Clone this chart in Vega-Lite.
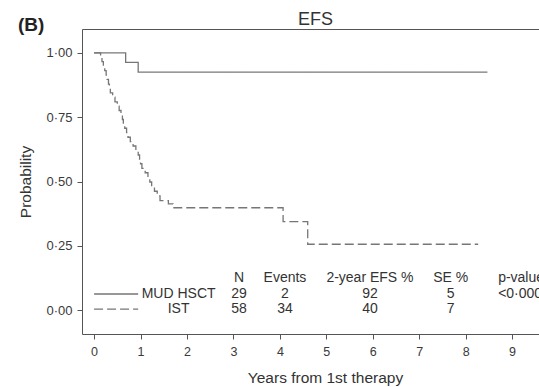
{
  "$schema": "https://vega.github.io/schema/vega-lite/v6.json",
  "width": 457,
  "height": 305,
  "autosize": "none",
  "padding": {"left": 82, "top": 29, "right": 0, "bottom": 53},
  "background": "white",
  "config": {
    "font": "Liberation Sans",
    "view": {"stroke": null},
    "axis": {"grid": false, "domainColor": "#555", "tickColor": "#555", "labelColor": "#3a3a3a", "titleColor": "#333", "titleFontWeight": "normal"}
  },
  "title": {"text": "(B)", "anchor": "start", "frame": "bounds", "fontSize": 19, "fontWeight": "bold", "color": "#222", "baseline": "alphabetic", "offset": -40},
  "datasets": {
    "curves": [
      {"group": "MUD HSCT", "t": 0, "s": 1},
      {"group": "MUD HSCT", "t": 0.68, "s": 0.963},
      {"group": "MUD HSCT", "t": 0.95, "s": 0.925},
      {"group": "MUD HSCT", "t": 8.47, "s": 0.925},
      {"group": "IST", "t": 0, "s": 1},
      {"group": "IST", "t": 0.14, "s": 0.983},
      {"group": "IST", "t": 0.17, "s": 0.966},
      {"group": "IST", "t": 0.2, "s": 0.948},
      {"group": "IST", "t": 0.23, "s": 0.931},
      {"group": "IST", "t": 0.26, "s": 0.914},
      {"group": "IST", "t": 0.28, "s": 0.897},
      {"group": "IST", "t": 0.31, "s": 0.879},
      {"group": "IST", "t": 0.33, "s": 0.862},
      {"group": "IST", "t": 0.35, "s": 0.845},
      {"group": "IST", "t": 0.4, "s": 0.828},
      {"group": "IST", "t": 0.45, "s": 0.81},
      {"group": "IST", "t": 0.5, "s": 0.793},
      {"group": "IST", "t": 0.54, "s": 0.776},
      {"group": "IST", "t": 0.58, "s": 0.759},
      {"group": "IST", "t": 0.61, "s": 0.741},
      {"group": "IST", "t": 0.63, "s": 0.724},
      {"group": "IST", "t": 0.66, "s": 0.707},
      {"group": "IST", "t": 0.7, "s": 0.69},
      {"group": "IST", "t": 0.73, "s": 0.672},
      {"group": "IST", "t": 0.78, "s": 0.655},
      {"group": "IST", "t": 0.84, "s": 0.638},
      {"group": "IST", "t": 0.9, "s": 0.62},
      {"group": "IST", "t": 0.95, "s": 0.603},
      {"group": "IST", "t": 0.98, "s": 0.586},
      {"group": "IST", "t": 1.0, "s": 0.569},
      {"group": "IST", "t": 1.03, "s": 0.551},
      {"group": "IST", "t": 1.1, "s": 0.534},
      {"group": "IST", "t": 1.16, "s": 0.516},
      {"group": "IST", "t": 1.2, "s": 0.498},
      {"group": "IST", "t": 1.24, "s": 0.48},
      {"group": "IST", "t": 1.3, "s": 0.462},
      {"group": "IST", "t": 1.36, "s": 0.444},
      {"group": "IST", "t": 1.42, "s": 0.426},
      {"group": "IST", "t": 1.6, "s": 0.413},
      {"group": "IST", "t": 1.7, "s": 0.398},
      {"group": "IST", "t": 4.07, "s": 0.344},
      {"group": "IST", "t": 4.6, "s": 0.256},
      {"group": "IST", "t": 8.27, "s": 0.256}
    ],
    "table": [
      {"col": "group", "text": "\nMUD HSCT\nIST"},
      {"col": "N", "text": "N\n29\n58"},
      {"col": "Events", "text": "Events\n2\n34"},
      {"col": "EFS", "text": "2-year EFS %\n92\n40"},
      {"col": "SE", "text": "SE %\n5\n7"},
      {"col": "p", "text": "p-value\n<0·0001\n"}
    ],
    "groups": [
      {"group": "MUD HSCT"},
      {"group": "IST"}
    ]
  },
  "resolve": {"axis": {"x": "independent", "y": "independent"}},
  "layer": [
    {
      "data": {"name": "curves"},
      "mark": {"type": "line", "interpolate": "step-after", "color": "#767676", "strokeWidth": 1.3},
      "encoding": {
        "x": {"field": "t", "type": "quantitative",
          "scale": {"domain": [-0.26, 9.58], "nice": false, "zero": false},
          "axis": {"values": [0,1,2,3,4,5,6,7,8,9], "format": "d", "labelFontSize": 12.5, "tickSize": 5, "labelPadding": 6, "labelFlush": false,
            "title": "Years from 1st therapy", "titleFontSize": 15.5, "titleX": 243, "titleY": 43, "titleBaseline": "middle", "titleAlign": "center"}},
        "y": {"field": "s", "type": "quantitative",
          "scale": {"domain": [-0.093, 1.093], "nice": false, "zero": false},
          "axis": {"values": [0, 0.25, 0.5, 0.75, 1], "labelExpr": "replace(format(datum.value, '.2f'), '.', '·')", "labelFontSize": 13, "tickSize": 5, "labelPadding": 5,
            "title": "Probability", "titleFontSize": 15.5, "titleAngle": -90, "titleX": -57, "titleY": 152.5, "titleAlign": "center", "titleBaseline": "middle"}},
        "strokeDash": {"field": "group", "type": "nominal", "scale": {"domain": ["MUD HSCT", "IST"], "range": [[1, 0], [9, 4]]}, "legend": null},
        "order": {"field": "t", "type": "quantitative"}
      }
    },
    {
      "data": {"name": "groups"},
      "transform": [{"filter": "datum.group === 'MUD HSCT'"}],
      "mark": {"type": "rule", "color": "#767676", "strokeWidth": 1.3},
      "encoding": {
        "x": {"datum": 0, "axis": {"orient": "top", "labels": false, "ticks": false, "domain": true, "title": "EFS", "titleFontSize": 18, "titleX": 233, "titleY": -5, "titleAlign": "center", "titleBaseline": "alphabetic"}},
        "x2": {"datum": 0.95},
        "y": {"datum": 0.0626, "axis": null}
      }
    },
    {
      "data": {"name": "groups"},
      "transform": [{"filter": "datum.group === 'IST'"}],
      "mark": {"type": "rule", "color": "#767676", "strokeWidth": 1.3, "strokeDash": [9, 4]},
      "encoding": {
        "x": {"datum": 0, "axis": null},
        "x2": {"datum": 0.95},
        "y": {"datum": 0.004, "axis": null}
      }
    },
    {
      "data": {"name": "table"},
      "transform": [{"filter": "datum.col === 'group'"}],
      "mark": {"type": "text", "fontSize": 14, "color": "#333", "align": "center", "baseline": "middle", "lineBreak": "\n", "lineHeight": 15.5},
      "encoding": {"text": {"field": "text"}, "x": {"datum": 1.82, "axis": null}, "y": {"datum": 0.1237, "axis": null}}
    },
    {
      "data": {"name": "table"},
      "transform": [{"filter": "datum.col === 'N'"}],
      "mark": {"type": "text", "fontSize": 14, "color": "#333", "align": "center", "baseline": "middle", "lineBreak": "\n", "lineHeight": 15.5},
      "encoding": {"text": {"field": "text"}, "x": {"datum": 3.12, "axis": null}, "y": {"datum": 0.1237, "axis": null}}
    },
    {
      "data": {"name": "table"},
      "transform": [{"filter": "datum.col === 'Events'"}],
      "mark": {"type": "text", "fontSize": 14, "color": "#333", "align": "center", "baseline": "middle", "lineBreak": "\n", "lineHeight": 15.5},
      "encoding": {"text": {"field": "text"}, "x": {"datum": 4.11, "axis": null}, "y": {"datum": 0.1237, "axis": null}}
    },
    {
      "data": {"name": "table"},
      "transform": [{"filter": "datum.col === 'EFS'"}],
      "mark": {"type": "text", "fontSize": 14, "color": "#333", "align": "center", "baseline": "middle", "lineBreak": "\n", "lineHeight": 15.5},
      "encoding": {"text": {"field": "text"}, "x": {"datum": 5.94, "axis": null}, "y": {"datum": 0.1237, "axis": null}}
    },
    {
      "data": {"name": "table"},
      "transform": [{"filter": "datum.col === 'SE'"}],
      "mark": {"type": "text", "fontSize": 14, "color": "#333", "align": "center", "baseline": "middle", "lineBreak": "\n", "lineHeight": 15.5},
      "encoding": {"text": {"field": "text"}, "x": {"datum": 7.68, "axis": null}, "y": {"datum": 0.1237, "axis": null}}
    },
    {
      "data": {"name": "table"},
      "transform": [{"filter": "datum.col === 'p'"}],
      "mark": {"type": "text", "fontSize": 14, "color": "#333", "align": "left", "baseline": "middle", "lineBreak": "\n", "lineHeight": 15.5},
      "encoding": {"text": {"field": "text"}, "x": {"datum": 8.7, "axis": null}, "y": {"datum": 0.1237, "axis": null}}
    }
  ]
}
